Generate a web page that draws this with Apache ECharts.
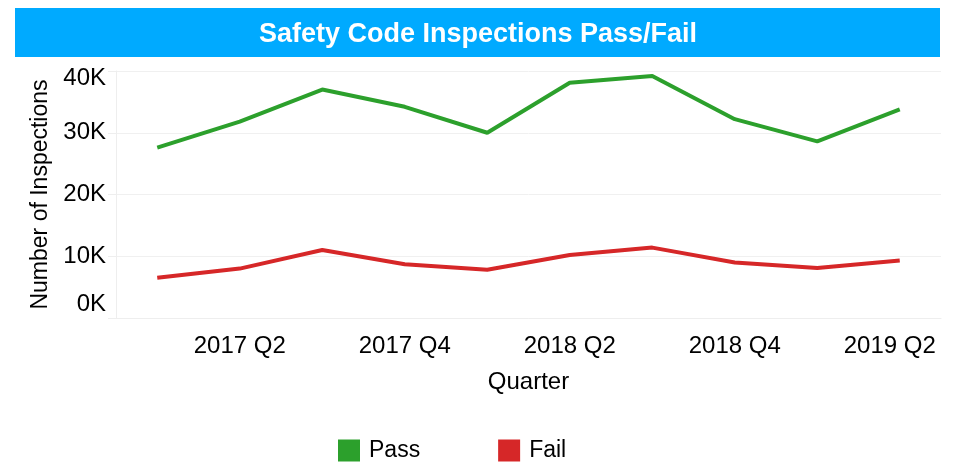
<!DOCTYPE html>
<html>
<head>
<meta charset="utf-8">
<script src="https://cdn.jsdelivr.net/npm/echarts@6/dist/echarts.min.js"></script>
<style>
html, body { margin: 0; padding: 0; background: #fff; }
#chart { width: 956px; height: 465px; }
</style>
</head>
<body>
<div id="chart"></div>
<script>
var quarters = ['2017 Q1', '2017 Q2', '2017 Q3', '2017 Q4', '2018 Q1', '2018 Q2', '2018 Q3', '2018 Q4', '2019 Q1', '2019 Q2'];
var passData = [27600, 31800, 37000, 34200, 30000, 38100, 39200, 32200, 28600, 33800];
var failData = [6500, 8000, 11000, 8700, 7800, 10200, 11400, 9000, 8100, 9300];

var font = 'Liberation Sans, Arial, sans-serif';
var chart = echarts.init(document.getElementById('chart'));

var option = {
    animation: false,
    textStyle: { fontFamily: font },
    graphic: [{
        type: 'rect',
        shape: { x: 15, y: 8, width: 925, height: 49 },
        style: { fill: '#00AAFF' },
        z: -1
    }],
    title: {
        text: 'Safety Code Inspections Pass/Fail',
        left: 'center',
        top: 16,
        textStyle: { color: '#fff', fontSize: 27, fontWeight: 'bold', fontFamily: font }
    },
    grid: { left: 116, right: 15, top: 71, bottom: 147 },
    legend: {
        bottom: -2,
        left: 333,
        icon: 'rect',
        itemWidth: 22,
        itemHeight: 22,
        itemGap: 78,
        textStyle: { fontSize: 23, color: '#000', fontFamily: font, padding: [0, 0, 0, 4] },
        data: ['Pass', 'Fail']
    },
    xAxis: {
        type: 'category',
        data: quarters,
        boundaryGap: true,
        name: 'Quarter',
        nameLocation: 'middle',
        nameGap: 52,
        nameTextStyle: { fontSize: 24, color: '#000' },
        axisLine: { lineStyle: { color: '#eeeeee' } },
        axisTick: { alignWithLabel: true, length: 6, interval: 0, lineStyle: { color: '#e0e0e0' } },
        axisLabel: {
            fontSize: 24,
            color: '#000',
            margin: 16,
            interval: function (i) { return i % 2 === 1; },
            formatter: function (v, i) {
                // last label is pulled in a little, as in the source
                return i === quarters.length - 1 ? '{e|' + v + '}' : v;
            },
            rich: { e: { fontSize: 24, color: '#000', padding: [0, 20, 0, 0] } }
        }
    },
    yAxis: {
        type: 'value',
        min: 0,
        max: 40000,
        interval: 10000,
        name: 'Number of Inspections',
        nameLocation: 'middle',
        nameGap: 59,
        nameTextStyle: { fontSize: 23, color: '#000' },
        axisLine: { show: true, lineStyle: { color: '#eeeeee' } },
        axisTick: { show: true, length: 8, lineStyle: { color: '#eeeeee' } },
        splitLine: { lineStyle: { color: '#f0f0f0' } },
        axisLabel: {
            fontSize: 24,
            color: '#000',
            margin: 10,
            formatter: function (v) {
                if (v === 0) return '{z|0K}';
                if (v === 40000) return '{t|40K}';
                return (v / 1000) + 'K';
            },
            rich: {
                z: { fontSize: 24, color: '#000', padding: [0, 0, 28, 0] },
                t: { fontSize: 24, color: '#000', padding: [14, 0, 0, 0] }
            }
        }
    },
    series: [{
        name: 'Pass',
        type: 'line',
        data: passData,
        symbol: 'none',
        itemStyle: { color: '#2CA02C' },
        lineStyle: { width: 4, color: '#2CA02C' }
    }, {
        name: 'Fail',
        type: 'line',
        data: failData,
        symbol: 'none',
        itemStyle: { color: '#D62728' },
        lineStyle: { width: 4, color: '#D62728' }
    }]
};

chart.setOption(option);
</script>
</body>
</html>
